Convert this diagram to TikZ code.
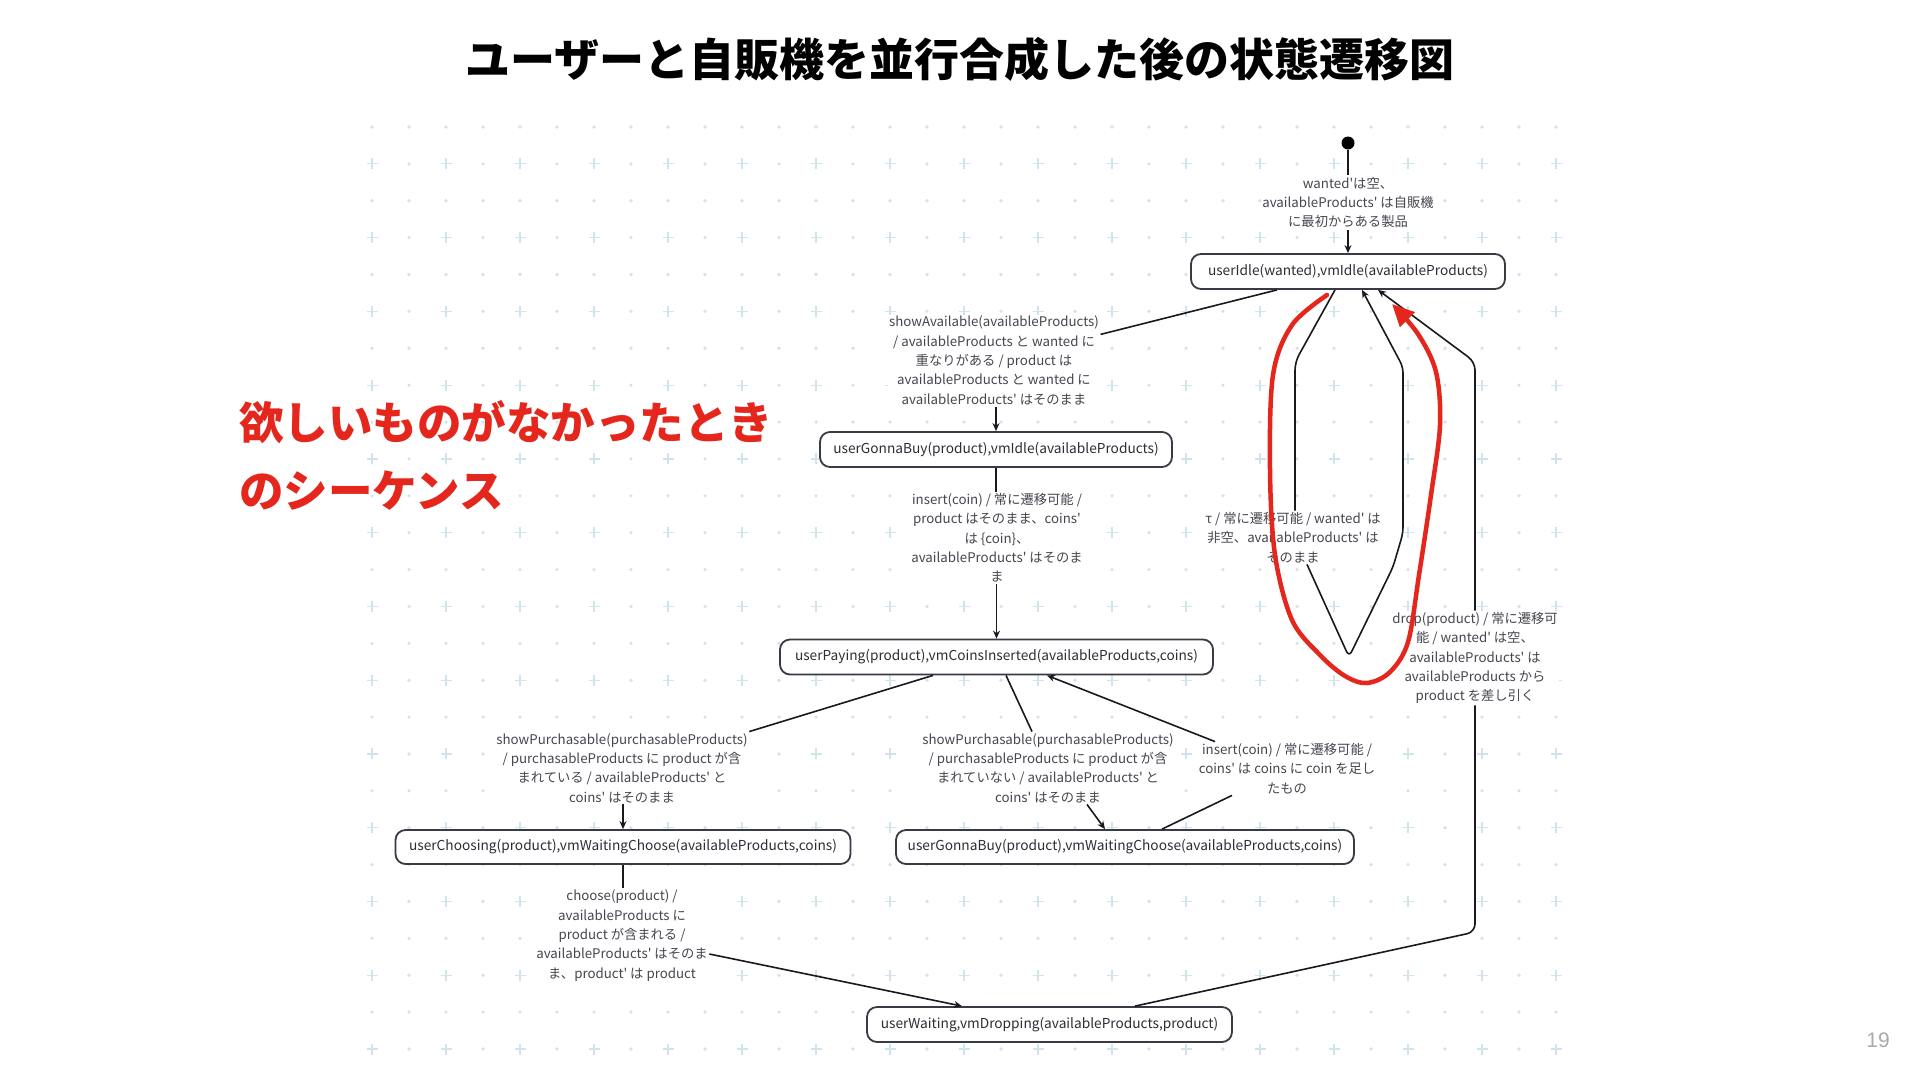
\documentclass[tikz,border=0pt]{standalone}
\usepackage{fontspec}
\newfontfamily\jp{Noto Sans CJK JP}
\newfontfamily\numf{Liberation Sans}
\usetikzlibrary{arrows.meta,calc}
\definecolor{gridc}{RGB}{208,229,235}
\definecolor{nodeborder}{RGB}{58,58,68}
\definecolor{nodetext}{RGB}{45,45,55}
\definecolor{lbltext}{RGB}{70,70,80}
\definecolor{edgec}{RGB}{25,25,30}
\definecolor{redc}{RGB}{228,38,28}
\definecolor{pagec}{RGB}{170,170,170}
\begin{document}
\begin{tikzpicture}[x=1pt,y=-1pt,
  st/.style={draw=nodeborder, line width=1.8pt, rounded corners=10pt, fill=white,
    minimum height=35pt, inner sep=0pt, text=nodetext, font=\jp\fontsize{13.7}{16}\selectfont},
  lbl/.style={fill=white, inner sep=1.5pt, align=center, text=lbltext,
    font=\jp\fontsize{13.3}{19.3}\selectfont},
  edge/.style={draw=edgec, line width=1.6pt},
  arr/.style={edge, -{Stealth[length=8pt,width=7pt]}}]
\path[use as bounding box, fill=white] (0,0) rectangle (1920,1080);
% dotted grid
\foreach \j in {0,2,...,24}{
  \foreach \i in {0,...,32}{
    \fill[gridc] (372+37*\i, 127+36.88*\j) circle[radius=1.8pt];
  }
}
\foreach \j in {1,3,...,25}{
  \foreach \i in {1,3,...,31}{
    \fill[gridc] (372+37*\i, 127+36.88*\j) circle[radius=1.8pt];
  }
  \foreach \i in {0,2,...,32}{
    \draw[gridc, line width=1.2pt] (366.5+37*\i, 127+36.88*\j) -- ++(11,0) ++(-5.5,-5.5) -- ++(0,11);
  }
}
% title
\node[inner sep=0pt, font=\jp\bfseries\fontsize{45}{50}\selectfont, text=black] (title) at (960,59) {ユーザーと自販機を並行合成した後の状態遷移図};
% red note
\node[anchor=west, inner sep=0pt, align=left, text=redc, font=\jp\bfseries\fontsize{44.5}{68}\selectfont] (note) at (239,455) {欲しいものがなかったとき\\のシーケンス};
% page number
\node[inner sep=0pt, text=pagec, font=\numf\fontsize{21}{21}\selectfont] (pg) at (1878,1040) {19};

% states
\node[circle, fill=black, inner sep=0pt, minimum size=13pt] (s) at (1348,143) {};
\node[st, minimum width=314pt] (n1) at (1348,271.5) {userIdle(wanted),vmIdle(availableProducts)};
\node[st, minimum width=352pt] (n2) at (996,449.5) {userGonnaBuy(product),vmIdle(availableProducts)};
\node[st, minimum width=433pt] (n3) at (996.5,657) {userPaying(product),vmCoinsInserted(availableProducts,coins)};
\node[st, minimum width=455pt, minimum height=34pt] (n4) at (623,847) {userChoosing(product),vmWaitingChoose(availableProducts,coins)};
\node[st, minimum width=458pt, minimum height=34pt] (n5) at (1125,847) {userGonnaBuy(product),vmWaitingChoose(availableProducts,coins)};
\node[st, minimum width=365pt] (n6) at (1049.5,1024.5) {userWaiting,vmDropping(availableProducts,product)};

% labels
\node[lbl] (l0) at (1348,202.5) {wanted'は空、\\availableProducts' は自販機\\に最初からある製品};
\node[lbl] (l1) at (994,360.5) {showAvailable(availableProducts)\\/ availableProducts と wanted に\\重なりがある / product は\\availableProducts と wanted に\\availableProducts' はそのまま};
\node[lbl] (l2) at (997,538) {insert(coin) / 常に遷移可能 /\\product はそのまま、coins'\\は \{coin\}、\\availableProducts' はそのま\\ま};
\node[lbl] (l3) at (622,768) {showPurchasable(purchasableProducts)\\/ purchasableProducts に product が含\\まれている / availableProducts' と\\coins' はそのまま};
\node[lbl] (l4) at (1048,768) {showPurchasable(purchasableProducts)\\/ purchasableProducts に product が含\\まれていない / availableProducts' と\\coins' はそのまま};
\node[lbl] (l5) at (1287,768.5) {insert(coin) / 常に遷移可能 /\\coins' は coins に coin を足し\\たもの};
\node[lbl] (l6) at (622,935.5) {choose(product) /\\availableProducts に\\product が含まれる /\\availableProducts' はそのま\\ま、product' は product};
\node[lbl] (l7) at (1475,658) {drop(product) / 常に遷移可\\能 / wanted' は空、\\availableProducts' は\\availableProducts から\\product を差し引く};
\node[lbl] (l8) at (1293,537.5) {τ / 常に遷移可能 / wanted' は\\非空、availableProducts' は\\そのまま};

% helper coordinates
\coordinate (c7a) at (1475,932);
\coordinate (c7b) at (1475,362);
\coordinate (c8a) at (1295,362);
\coordinate (c8tip) at (1349,657);
\coordinate (c8c) at (1393,567);
\coordinate (c8d) at (1403,533);
\coordinate (c8e) at (1403,367);

% connectors
\draw[edge] (s) -- (l0);
\draw[arr] (l0) -- (n1);
\draw[edge] ([xshift=-71pt]n1.south) -- ([yshift=-20pt]l1.north east);
\draw[arr] (n2.north |- l1.south) -- (n2.north);
\draw[edge] (n2.south) -- (n2.south |- l2.north);
\draw[arr] (n3.north |- l2.south) -- (n3.north);
\draw[edge] ([xshift=-63.5pt]n3.south) -- (l3.north east);
\draw[arr] (n4.north |- l3.south) -- (n4.north);
\draw[edge] ([xshift=9.5pt]n3.south) -- ([xshift=-16pt]l4.north);
\draw[arr] ([xshift=39pt]l4.south) -- ([xshift=-20pt]n5.north);
\draw[edge] ([xshift=37pt]n5.north) -- ([xshift=-55pt]l5.south);
\draw[arr] ([xshift=18pt]l5.north west) -- ([xshift=50.5pt]n3.south);
\draw[edge] (n4.south) -- (n4.south |- l6.north);
\draw[arr] ([yshift=-18.5pt]l6.east) -- ([xshift=-87.5pt]n6.north);
\draw[edge, rounded corners=8pt] ([xshift=85.5pt]n6.north) -- (c7a) -- (l7.south);
\draw[arr, rounded corners=8pt] (l7.north) -- (c7b) -- ([xshift=30pt]n1.south);
\draw[edge, rounded corners=8pt] ([xshift=-13pt]n1.south) -- (c8a) -- (c8a |- l8.north);
\draw[arr, rounded corners=6pt] ([xshift=14pt]l8.south) -- (c8tip) -- (c8c) -- (c8d) -- (c8e) -- ([xshift=14pt]n1.south);

% red annotation loop
\draw[redc, line width=4.5pt, line cap=round, -{Triangle[length=22pt,width=20pt]}]
  plot[smooth, tension=0.55] coordinates {(1327,295) (1292,325) (1273,375) (1270,470) (1275,555) (1292,620) (1320,655) (1345,676) (1367,683) (1390,672) (1408,642) (1419,575) (1431,495) (1440,425) (1436,372) (1418,334) (1392,304)};
\end{tikzpicture}
\end{document}
